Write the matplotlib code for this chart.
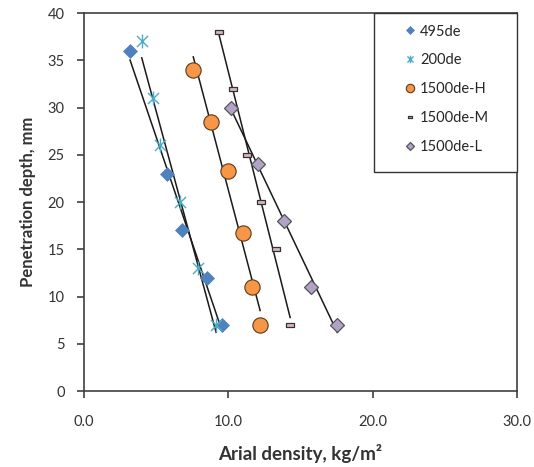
import numpy as np
import matplotlib
matplotlib.use("Agg")
import matplotlib.pyplot as plt
from matplotlib.path import Path
from matplotlib.patches import Rectangle

plt.rcParams['font.family'] = ['Lato', 'DejaVu Sans']

# data (x = arial density kg/m2, y = penetration depth mm)
x_495 = [3.19, 5.73, 6.81, 8.50, 9.54]
y_495 = [36, 23, 17, 12, 7]
x_200 = [4.0, 4.76, 5.27, 6.65, 7.92, 9.15]
y_200 = [37, 31, 26, 20, 13, 7]
x_h = [7.57, 8.80, 9.96, 11.04, 11.66, 12.20]
y_h = [34, 28.5, 23.3, 16.7, 11, 7]
x_m = [9.33, 10.30, 11.32, 12.27, 13.31, 14.28]
y_m = [38, 32, 25, 20, 15, 7]
x_l = [10.19, 12.04, 13.86, 15.71, 17.55]
y_l = [30, 24, 18, 11, 7]

labels = ['495de', '200de', '1500de-H', '1500de-M', '1500de-L']
xticks = [0, 10, 20, 30]
yticks = [0, 5, 10, 15, 20, 25, 30, 35, 40]

# excel style markers
star = Path([(0, -1), (0, 1), (-0.8, -0.8), (0.8, 0.8), (-0.8, 0.8), (0.8, -0.8)],
            [Path.MOVETO, Path.LINETO, Path.MOVETO, Path.LINETO, Path.MOVETO, Path.LINETO])
dash = Path([(-1, -0.55), (1, -0.55), (1, 0.55), (-1, 0.55), (-1, -0.55)],
            [Path.MOVETO, Path.LINETO, Path.LINETO, Path.LINETO, Path.CLOSEPOLY])

styles = [
    dict(marker='D', ms=7.5, mfc='#4F81BD', mec='#4F81BD', mew=0.5),
    dict(marker=star, ms=10, mfc='none', mec='#4BACC6', mew=1.0),
    dict(marker='o', ms=11, mfc='#F79646', mec='#5a3a1a', mew=0.8),
    dict(marker=dash, ms=5.5, mfc='#d8b8b8', mec='#333333', mew=0.9),
    dict(marker='D', ms=7, mfc='#B3A2C7', mec='#555555', mew=0.9),
]
series = [(x_495, y_495), (x_200, y_200), (x_h, y_h), (x_m, y_m), (x_l, y_l)]

fig = plt.figure(figsize=(5.34, 4.67), dpi=100)
ax = fig.add_axes([0.1573, 0.1627, 0.811, 0.8094])

handles = []
for (xs, ys), st, lab in zip(series, styles, labels):
    xs = np.array(xs)
    ys = np.array(ys)
    # linear trendline over data x range
    coef = np.polyfit(xs, ys, 1)
    xl = np.array([xs.min(), xs.max()])
    ax.plot(xl, np.polyval(coef, xl), color='#1a1a1a', lw=1.1, zorder=2)
    h, = ax.plot(xs, ys, ls='none', zorder=3, label=lab, **st)
    handles.append(h)

ax.set_xlim(0, 30)
ax.set_ylim(0, 40)
ax.set_xticks(xticks)
ax.set_xticklabels(['%.1f' % v for v in xticks])
ax.set_yticks(yticks)
for s in ax.spines.values():
    s.set_color('#404040')
    s.set_linewidth(1.2)
ax.tick_params(direction='out', length=5, width=1.2, color='#404040',
               labelsize=10.5, labelcolor='#333333', pad=9)
ax.tick_params(axis='x', pad=12)

ax.set_xlabel('Arial density, kg/m²', fontsize=13.5, fontweight='bold',
              color='#333333', labelpad=11)
ax.set_ylabel('Penetration depth, mm', fontsize=12, fontweight='bold',
              color='#333333', labelpad=8)

# legend box like excel
ax.add_patch(Rectangle((0.67, 0.579), 0.33, 0.421, transform=ax.transAxes,
                       fill=True, fc='white', ec='#333333', lw=1.0, zorder=4,
                       clip_on=False))
leg = ax.legend(handles=handles, loc='upper left', bbox_to_anchor=(0.725, 0.985),
                frameon=False, fontsize=10.5, markerscale=0.55, handlelength=0.8,
                handletextpad=0.3, labelspacing=1.02, borderaxespad=0)
for t in leg.get_texts():
    t.set_color('#262626')
leg.set_zorder(5)

fig.savefig('out.png', dpi=100)
